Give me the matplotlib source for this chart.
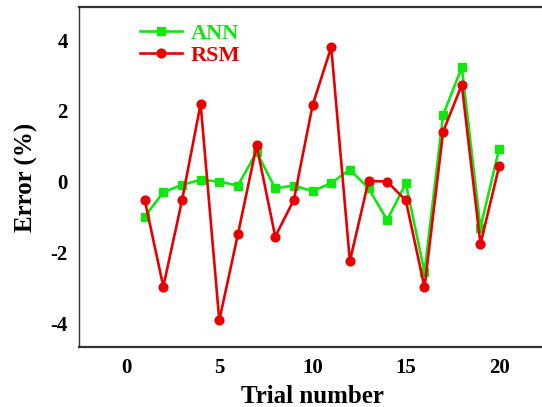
import matplotlib
matplotlib.use("Agg")
import matplotlib.pyplot as plt

# Trial numbers and prediction errors (%)
trials = list(range(1, 21))
ann_error = [-0.98, -0.29, -0.08, 0.06, 0.01, -0.10, 0.84, -0.18, -0.10, -0.26,
             -0.03, 0.35, -0.18, -1.07, -0.04, -2.54, 1.89, 3.23, -1.29, 0.93]
rsm_error = [-0.50, -2.95, -0.52, 2.20, -3.90, -1.47, 1.03, -1.54, -0.50, 2.16,
             3.80, -2.23, 0.03, 0.01, -0.52, -2.97, 1.42, 2.74, -1.75, 0.44]
xticks = [0, 5, 10, 15, 20]
yticks = [-4, -2, 0, 2, 4]

green = '#11e611'
red = '#e80000'

plt.rcParams['font.family'] = ['Liberation Serif', 'DejaVu Serif']
plt.rcParams['font.weight'] = 'bold'
plt.rcParams['axes.unicode_minus'] = False

fig = plt.figure(figsize=(5.42, 4.07), dpi=100)
ax = fig.add_axes([79 / 542, 60 / 407, 466 / 542, 340 / 407])

ax.plot(trials, ann_error, color=green, lw=1.9, marker='s', ms=5.2,
        label='ANN', zorder=2)
ax.plot(trials, rsm_error, color=red, lw=1.9, marker='o', ms=6.3,
        label='RSM', zorder=3)

ax.set_xlim(-2.52, 22.46)
ax.set_ylim(-4.65, 4.93)
ax.set_xticks(xticks)
ax.set_yticks(yticks)
ax.tick_params(length=0, labelsize=15, pad=8)
for lab in ax.get_xticklabels() + ax.get_yticklabels():
    lab.set_fontweight('bold')

ax.set_xlabel('Trial number', fontsize=18, fontweight='bold', labelpad=5)
ax.set_ylabel('Error (%)', fontsize=18, fontweight='bold', labelpad=9)

ax.spines['right'].set_visible(False)
ax.spines['top'].set_linewidth(1.6)
ax.spines['bottom'].set_linewidth(1.6)
ax.spines['left'].set_linewidth(1.0)
for s in ax.spines.values():
    s.set_color('#333333')

leg = ax.legend(loc='upper left', bbox_to_anchor=(0.13, 0.953), frameon=False,
                handlelength=1.9, handletextpad=0.4, labelspacing=0.08,
                borderpad=0, borderaxespad=0,
                prop={'family': 'Liberation Serif', 'weight': 'bold', 'size': 16},
                labelcolor='linecolor')

fig.savefig('out.png', dpi=100)
